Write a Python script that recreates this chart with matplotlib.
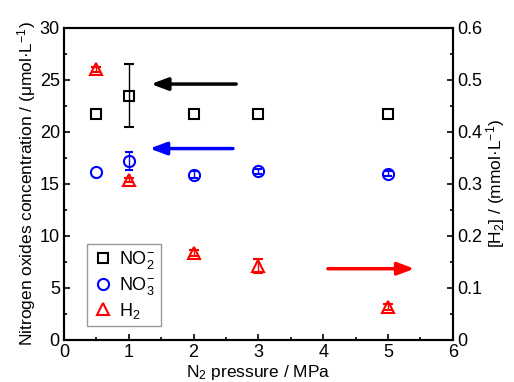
import matplotlib
matplotlib.use("Agg")
import matplotlib.pyplot as plt
from matplotlib.lines import Line2D
from matplotlib.ticker import MultipleLocator, FuncFormatter

plt.rcParams["font.family"] = ["Liberation Sans", "DejaVu Sans"]
plt.rcParams["mathtext.fontset"] = "custom"
plt.rcParams["mathtext.rm"] = "Liberation Sans"
plt.rcParams["mathtext.it"] = "Liberation Sans:italic"
plt.rcParams["font.size"] = 12.5

nan = float("nan")

# N2 pressure (MPa)
pressure = [0.5, 1, 2, 3, 5]
# nitrogen oxides, umol/L (nan = error bar hidden by the marker)
no2 = [21.7, 23.5, 21.7, 21.7, 21.7]
no2_err = [nan, 3.0, nan, nan, nan]
no3 = [16.1, 17.2, 15.9, 16.2, 16.0]
no3_err = [nan, 0.9, 0.3, 0.2, 0.2]
# H2, mmol/L
h2 = [0.52, 0.308, 0.167, 0.142, 0.064]
h2_err = [0.005, 0.004, 0.006, 0.013, 0.006]

fig = plt.figure(figsize=(5.14, 3.82), dpi=100)
ax = fig.add_axes([0.1245, 0.110, 0.7565, 0.817])
ax2 = ax.twinx()

ms = 7
ax.errorbar(pressure, no2, yerr=no2_err, fmt="s", ms=ms, mfc="none", mec="black",
            mew=1.5, ecolor="black", elinewidth=1, capsize=3.5)
ax.errorbar(pressure, no3, yerr=no3_err, fmt="o", ms=ms + 1, mfc="none", mec="blue",
            mew=1.5, ecolor="blue", elinewidth=1, capsize=3)
ax2.errorbar(pressure, h2, yerr=h2_err, fmt="^", ms=ms + 1.5, mfc="none", mec="red",
             mew=1.5, ecolor="red", elinewidth=1, capsize=3.5)

# arrows pointing at the axis each series belongs to
ax.annotate("", xy=(1.3, 24.6), xytext=(2.7, 24.6),
            arrowprops=dict(arrowstyle="-|>,head_length=0.8,head_width=0.3", color="black", lw=2.5))
ax.annotate("", xy=(1.28, 18.4), xytext=(2.65, 18.4),
            arrowprops=dict(arrowstyle="-|>,head_length=0.8,head_width=0.3", color="blue", lw=2.5))
ax2.annotate("", xy=(5.45, 0.137), xytext=(4.03, 0.137),
             arrowprops=dict(arrowstyle="-|>,head_length=0.8,head_width=0.3", color="red", lw=2.5))

ax.set_xlim(0, 6)
ax.set_ylim(0, 30)
ax2.set_ylim(0, 0.6)
ax.xaxis.set_major_locator(MultipleLocator(1))
ax.xaxis.set_minor_locator(MultipleLocator(0.5))
ax.yaxis.set_major_locator(MultipleLocator(5))
ax.yaxis.set_minor_locator(MultipleLocator(2.5))
ax2.yaxis.set_major_locator(MultipleLocator(0.1))
ax2.yaxis.set_minor_locator(MultipleLocator(0.05))
ax2.yaxis.set_major_formatter(FuncFormatter(lambda v, p: "0" if abs(v) < 1e-9 else f"{v:.1f}"))

for a in (ax, ax2):
    a.tick_params(which="major", direction="in", length=4, width=1.2, labelsize=13)
    a.tick_params(which="minor", direction="in", length=2.5, width=1.2)
    for s in a.spines.values():
        s.set_linewidth(1.5)
ax.tick_params(top=False, which="both", pad=3)

ax.set_xlabel("N$_2$ pressure / MPa", labelpad=1)
ax.set_ylabel("Nitrogen oxides concentration / (\u03bcmol\u00b7L$^{-1}$)", labelpad=1)
ax2.set_ylabel("[H$_2$] / (mmol\u00b7L$^{-1}$)", labelpad=1)

handles = [
    Line2D([], [], ls="none", marker="s", ms=ms, mfc="none", mec="black", mew=1.5),
    Line2D([], [], ls="none", marker="o", ms=ms + 1, mfc="none", mec="blue", mew=1.5),
    Line2D([], [], ls="none", marker="^", ms=ms + 1.5, mfc="none", mec="red", mew=1.5),
]
leg = ax.legend(handles, ["NO$_2^{-}$", "NO$_3^{-}$", "H$_2$"], loc="lower left",
                bbox_to_anchor=(0.059, 0.045), borderaxespad=0, fancybox=False,
                edgecolor="gray", handletextpad=0.3, borderpad=0.3, labelspacing=0.2,
                handlelength=1.2, fontsize=13)
leg.get_frame().set_linewidth(1.0)

fig.savefig("out.png", dpi=100)
